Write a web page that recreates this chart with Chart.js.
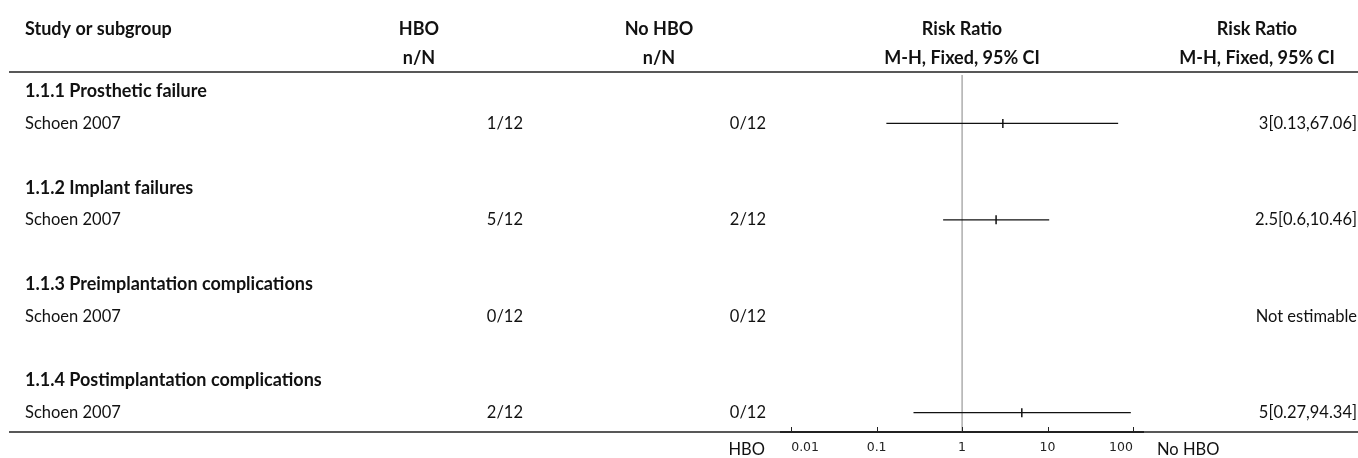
<!DOCTYPE html>
<html>
<head>
  <meta charset="UTF-8">
  <title>Risk Ratio forest plot</title>
  <script src="https://cdn.jsdelivr.net/npm/chart.js@4.4.1/dist/chart.umd.min.js"></script>
  <style>
    html, body { margin: 0; padding: 0; background: #fff; }
    #wrap { width: 1358px; height: 458px; position: relative; }
  </style>
</head>
<body>
<div id="wrap"><canvas id="forest"></canvas></div>

<script>
  // data
  const groupLabels = ['1.1.1 Prosthetic failure', '1.1.2 Implant failures',
                       '1.1.3 Preimplantation complications', '1.1.4 Postimplantation complications'];
  const studyLabels = ['Schoen 2007', 'Schoen 2007', 'Schoen 2007', 'Schoen 2007'];
  const hboCounts   = ['1/12', '5/12', '0/12', '2/12'];
  const noHboCounts = ['0/12', '2/12', '0/12', '0/12'];
  const riskRatio   = [3, 2.5, null, 5];
  const ciLower     = [0.13, 0.6, null, 0.27];
  const ciUpper     = [67.06, 10.46, null, 94.34];
  const xTickValues = [0.01, 0.1, 1, 10, 100];
  const xTickLabels = ['0.01', '0.1', '1', '10', '100'];

  // each group = heading row, study row, blank row
  function groupRow(i) { return i * 3; }
  function studyRow(i) { return i * 3 + 1; }

  var datasets = [];
  for (var i = 0; i < riskRatio.length; i++) {
    if (riskRatio[i] == null) continue;
    datasets.push({
      data: [{ x: ciLower[i], y: studyRow(i) }, { x: ciUpper[i], y: studyRow(i) }],
      showLine: true,
      borderColor: '#111',
      borderWidth: 1.3,
      pointRadius: 0
    });
    datasets.push({
      data: [{ x: riskRatio[i], y: studyRow(i) }],
      pointStyle: 'line',
      rotation: 90,
      pointRadius: 4.5,
      borderColor: '#111',
      borderWidth: 1.5
    });
  }

  const FONT = 'Lato, "Noto Sans", sans-serif';
  const BOLD = 'bold 18px ' + FONT;
  const REG = '16.5px ' + FONT;

  const tablePlugin = {
    id: 'tablePlugin',
    beforeDatasetsDraw(chart) {
      const ctx = chart.ctx, area = chart.chartArea, x = chart.scales.x;
      // null-effect line at RR = 1
      var px = x.getPixelForValue(1);
      ctx.save();
      ctx.strokeStyle = '#999';
      ctx.lineWidth = 1.2;
      ctx.beginPath();
      ctx.moveTo(px, area.top + 3);
      ctx.lineTo(px, area.bottom);
      ctx.stroke();
      ctx.restore();
    },
    afterDraw(chart) {
      const ctx = chart.ctx, area = chart.chartArea;
      const x = chart.scales.x, y = chart.scales.y;
      const W = chart.width;

      // column anchors
      const colStudy = 25;
      const hboHead = 419, hboRight = 523;
      const noHboHead = 659, noHboRight = 766;
      const plotHead = (area.left + area.right) / 2;
      const rrHead = 1257, rrRight = W - 1;

      ctx.save();
      ctx.fillStyle = '#111';
      ctx.textBaseline = 'middle';

      // header rows
      var h1 = area.top - 43, h2 = area.top - 14;
      ctx.font = BOLD;
      ctx.textAlign = 'left';
      ctx.fillText('Study or subgroup', colStudy, h1);
      ctx.textAlign = 'center';
      ctx.fillText('HBO', hboHead, h1);
      ctx.fillText('n/N', hboHead, h2);
      ctx.fillText('No HBO', noHboHead, h1);
      ctx.fillText('n/N', noHboHead, h2);
      ctx.fillText('Risk Ratio', plotHead, h1);
      ctx.fillText('M-H, Fixed, 95% CI', plotHead, h2);
      ctx.fillText('Risk Ratio', rrHead, h1);
      ctx.fillText('M-H, Fixed, 95% CI', rrHead, h2);

      // rules
      ctx.strokeStyle = '#222';
      ctx.lineWidth = 1.6;
      ctx.beginPath();
      ctx.moveTo(9, area.top);
      ctx.lineTo(W, area.top);
      ctx.moveTo(9, area.bottom);
      ctx.lineTo(W, area.bottom);
      ctx.stroke();

      // body rows
      for (var i = 0; i < groupLabels.length; i++) {
        var gy = y.getPixelForValue(groupRow(i));
        var sy = y.getPixelForValue(studyRow(i));
        ctx.font = BOLD;
        ctx.textAlign = 'left';
        ctx.fillText(groupLabels[i], colStudy, gy);

        ctx.font = REG;
        ctx.fillText(studyLabels[i], colStudy, sy);
        ctx.textAlign = 'right';
        ctx.fillText(hboCounts[i], hboRight, sy);
        ctx.fillText(noHboCounts[i], noHboRight, sy);
        var txt = riskRatio[i] == null ? 'Not estimable'
          : riskRatio[i] + '[' + ciLower[i] + ',' + ciUpper[i] + ']';
        ctx.fillText(txt, rrRight, sy);
      }

      // upward tick marks on the log axis
      ctx.strokeStyle = '#222';
      ctx.lineWidth = 1;
      ctx.beginPath();
      xTickValues.forEach(function (v) {
        var tx = Math.round(x.getPixelForValue(v)) + 0.5;
        ctx.moveTo(tx, area.bottom);
        ctx.lineTo(tx, area.bottom - 5);
      });
      ctx.stroke();

      // favours labels
      ctx.font = REG;
      ctx.textAlign = 'right';
      ctx.fillText('HBO', area.left - 16, area.bottom + 18);
      ctx.textAlign = 'left';
      ctx.fillText('No HBO', area.right + 14, area.bottom + 18);
      ctx.restore();
    }
  };

  var chart = new Chart(document.getElementById('forest'), {
    type: 'scatter',
    data: { datasets: datasets },
    plugins: [tablePlugin],
    options: {
      responsive: true,
      maintainAspectRatio: false,
      animation: false,
      layout: { padding: { left: 781, right: 215, top: 72, bottom: 0 } },
      plugins: { legend: { display: false }, tooltip: { enabled: false } },
      scales: {
        x: {
          type: 'logarithmic',
          min: 0.0076,
          max: 131,
          afterBuildTicks: function (scale) {
            scale.ticks = xTickValues.map(function (v) { return { value: v }; });
          },
          afterFit: function (scale) { scale.height = 26; },
          ticks: {
            autoSkip: false,
            maxRotation: 0,
            align: 'inner',
            padding: 8,
            color: '#222',
            font: { family: '"DejaVu Sans"', size: 12.5 },
            callback: function (value) {
              var k = xTickValues.indexOf(value);
              return k >= 0 ? xTickLabels[k] : '';
            }
          },
          grid: { display: true, drawOnChartArea: false, drawTicks: false },
          border: { display: true, color: '#222', width: 2 }
        },
        y: {
          type: 'linear',
          reverse: true,
          min: -0.6,
          max: 10.6,
          display: false
        }
      }
    }
  });
</script>
</body>
</html>
